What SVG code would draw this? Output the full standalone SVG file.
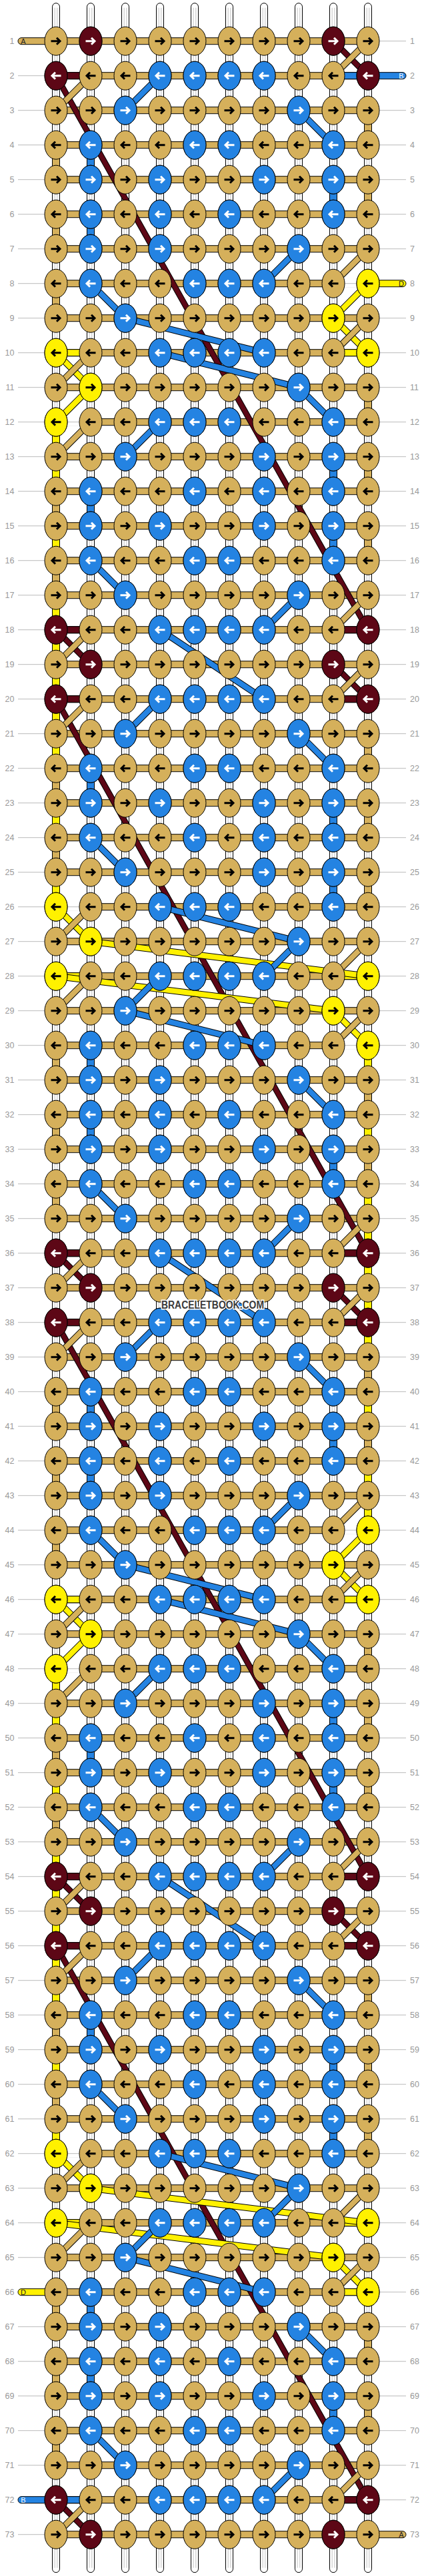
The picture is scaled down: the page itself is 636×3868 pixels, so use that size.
<svg xmlns="http://www.w3.org/2000/svg" width="636" height="3868" viewBox="0 0 636 3868">
<style>
.lb{font-family:"Liberation Sans",Arial,sans-serif;font-size:12.5px;fill:#999}
.le{text-anchor:end}
.cp{font-family:"Liberation Sans",Arial,sans-serif;font-size:11px;text-anchor:middle}
.a{fill:none;stroke-width:3}
.wm{font-family:"Liberation Sans",Arial,sans-serif;font-weight:bold;font-size:16px;fill:#3a3a3a;stroke:#fff;stroke-width:3;paint-order:stroke;text-anchor:middle}
</style>
<defs>
<path id="ar" class="a" d="M-7.5 0H5M1-5L6 0L1 5"/>
<path id="al" class="a" d="M7.5 0H-5M-1-5L-6 0L-1 5"/>
<ellipse id="e" rx="17" ry="21.5" stroke="#000"/>
<g id="tR"><use href="#e" fill="#D5B05B"/><use href="#ar" stroke="#000"/></g>
<g id="tL"><use href="#e" fill="#D5B05B"/><use href="#al" stroke="#000"/></g>
<g id="bR"><use href="#e" fill="#2483E2"/><use href="#ar" stroke="#fff"/></g>
<g id="bL"><use href="#e" fill="#2483E2"/><use href="#al" stroke="#fff"/></g>
<g id="mR"><use href="#e" fill="#5D0716"/><use href="#ar" stroke="#fff"/></g>
<g id="mL"><use href="#e" fill="#5D0716"/><use href="#al" stroke="#fff"/></g>
<g id="yR"><use href="#e" fill="#FFF100"/><use href="#ar" stroke="#000"/></g>
<g id="yL"><use href="#e" fill="#FFF100"/><use href="#al" stroke="#000"/></g>
<g id="rR"><use href="#tR" x="84"/><use href="#tR" x="136"/><use href="#tR" x="188"/><use href="#tR" x="240"/><use href="#tR" x="292"/><use href="#tR" x="344"/><use href="#tR" x="396"/><use href="#tR" x="448"/><use href="#tR" x="500"/><use href="#tR" x="552"/></g>
<g id="rL"><use href="#tL" x="84"/><use href="#tL" x="136"/><use href="#tL" x="188"/><use href="#tL" x="240"/><use href="#tL" x="292"/><use href="#tL" x="344"/><use href="#tL" x="396"/><use href="#tL" x="448"/><use href="#tL" x="500"/><use href="#tL" x="552"/></g>
<g id="k2"><use href="#rR"/><use href="#rL" y="52"/></g>
<g id="k4"><use href="#k2"/><use href="#k2" y="104"/></g>
<g id="k8"><use href="#k4"/><use href="#k4" y="208"/></g>
<g id="k16"><use href="#k8"/><use href="#k8" y="416"/></g>
<g id="k32"><use href="#k16"/><use href="#k16" y="832"/></g>
<g id="k64"><use href="#k32"/><use href="#k32" y="1664"/></g>
<g id="hF"><path d="M27 0H609" stroke="#bbb"/><rect x="84" y="-5" width="468" height="10" fill="#D5B05B" stroke="#000"/></g>
<g id="h2"><use href="#hF"/><use href="#hF" y="52"/></g>
<g id="h4"><use href="#h2"/><use href="#h2" y="104"/></g>
<g id="h8"><use href="#h4"/><use href="#h4" y="208"/></g>
<g id="h16"><use href="#h8"/><use href="#h8" y="416"/></g>
<g id="h32"><use href="#h16"/><use href="#h16" y="832"/></g>
<g id="h64"><use href="#h32"/><use href="#h32" y="1664"/></g>
<g id="col"><rect x="-5.5" y="-57" width="11" height="3858" rx="5.5" fill="#fff" stroke="#000"/><path d="M-1.8-50V3794M1.8-50V3794" stroke="#c4c4c4"/></g>
<g id="o1"><use href="#mR" x="136"/><use href="#mR" x="500"/></g>
<g id="b4"><use href="#bL" x="240"/><use href="#bL" x="292"/><use href="#bL" x="344"/><use href="#bL" x="396"/></g>
<g id="o2"><use href="#mL" x="84"/><use href="#b4"/><use href="#mL" x="552"/></g>
<g id="x3"><use href="#bR" x="188"/><use href="#bR" x="448"/></g>
<g id="x4"><use href="#bL" x="136"/><use href="#bL" x="292"/><use href="#bL" x="344"/><use href="#bL" x="500"/></g>
<g id="x5"><use href="#bR" x="136"/><use href="#bR" x="240"/><use href="#bR" x="396"/><use href="#bR" x="500"/></g>
<g id="x6"><use href="#bL" x="136"/><use href="#bL" x="240"/><use href="#bL" x="344"/><use href="#bL" x="500"/></g>
<g id="x7"><use href="#bR" x="136"/><use href="#bR" x="240"/><use href="#bR" x="448"/></g>
<g id="x8"><use href="#bL" x="136"/><use href="#bL" x="292"/><use href="#bL" x="344"/><use href="#bL" x="396"/><use href="#yL" x="552"/></g>
<g id="x9"><use href="#bR" x="188"/><use href="#yR" x="500"/></g>
<g id="x10"><use href="#yL" x="84"/><use href="#b4"/><use href="#yL" x="552"/></g>
<g id="x11"><use href="#yR" x="136"/><use href="#bR" x="448"/></g>
<g id="x12"><use href="#yL" x="84"/><use href="#bL" x="240"/><use href="#bL" x="292"/><use href="#bL" x="344"/><use href="#bL" x="500"/></g>
<g id="x13"><use href="#bR" x="188"/><use href="#bR" x="396"/><use href="#bR" x="500"/></g>
<g id="x14"><use href="#bL" x="136"/><use href="#bL" x="292"/><use href="#bL" x="396"/><use href="#bL" x="500"/></g>
<g id="P"><use href="#o1"/><use href="#o2" y="52"/><use href="#x3" y="104"/><use href="#x4" y="156"/><use href="#x5" y="208"/><use href="#x6" y="260"/><use href="#x7" y="312"/><use href="#x8" y="364"/><use href="#x9" y="416"/><use href="#x10" y="468"/><use href="#x11" y="520"/><use href="#x12" y="572"/><use href="#x13" y="624"/><use href="#x14" y="676"/><use href="#x5" y="728"/><use href="#x4" y="780"/><use href="#x3" y="832"/><use href="#o2" y="884"/><use href="#o1" y="936"/><use href="#o2" y="988"/><use href="#x3" y="1040"/><use href="#x4" y="1092"/><use href="#x5" y="1144"/><use href="#x14" y="1196"/><use href="#x13" y="1248"/><use href="#x12" y="1300"/><use href="#x11" y="1352"/><use href="#x10" y="1404"/><use href="#x9" y="1456"/><use href="#x8" y="1508"/><use href="#x7" y="1560"/><use href="#x6" y="1612"/><use href="#x5" y="1664"/><use href="#x4" y="1716"/><use href="#x3" y="1768"/><use href="#o2" y="1820"/></g>
<path id="dm" fill="none" d="M500 0L552 52M84 52L552 884M84 884L136 936M500 936L552 988M84 988L552 1820M84 1820L136 1872"/>
<path id="dy" fill="none" d="M552 364L500 416M500 416L552 468M84 468L136 520M136 520L84 572M84 1300L136 1352M136 1352L552 1404M84 1404L500 1456M500 1456L552 1508"/>
<path id="db" fill="none" d="M240 52L188 104M448 104L500 156M448 312L396 364M136 364L188 416M188 416L396 468M240 468L448 520M448 520L500 572M240 572L188 624M136 780L188 832M448 832L396 884M240 884L396 988M240 988L188 1040M448 1040L500 1092M136 1196L188 1248M240 1300L448 1352M448 1352L396 1404M240 1404L188 1456M188 1456L396 1508M448 1560L500 1612M136 1716L188 1768M448 1768L396 1820"/>
<path id="dt" fill="none" d="M552 0L500 52M136 52L84 104M552 312L500 364M552 416L500 468M136 468L84 520M136 572L84 624M552 832L500 884M136 884L84 936M552 936L500 988M136 988L84 1040M136 1300L84 1352M552 1352L500 1404M136 1404L84 1456M552 1456L500 1508M552 1768L500 1820M136 1820L84 1872"/>
<g id="D"><use href="#dm" stroke="#000" stroke-width="9"/><use href="#dm" stroke="#5D0716" stroke-width="7"/><use href="#dy" stroke="#000" stroke-width="10"/><use href="#dy" stroke="#FFF100" stroke-width="8"/><use href="#db" stroke="#000" stroke-width="10"/><use href="#db" stroke="#2483E2" stroke-width="8"/><use href="#dt" stroke="#000" stroke-width="10"/><use href="#dt" stroke="#D5B05B" stroke-width="8"/></g>
</defs>
<rect width="636" height="3868" fill="#fff"/>
<g transform="translate(0 61.7)">
<g id="columns"><use href="#col" x="84"/><use href="#col" x="136"/><use href="#col" x="188"/><use href="#col" x="240"/><use href="#col" x="292"/><use href="#col" x="344"/><use href="#col" x="396"/><use href="#col" x="448"/><use href="#col" x="500"/><use href="#col" x="552"/></g>
<g id="vertical-segments" stroke="#000">
<path fill="#D5B05B" d="M78.5 156h11v52h-11zM78.5 260h11v52h-11zM78.5 364h11v52h-11zM78.5 676h11v52h-11zM78.5 780h11v52h-11zM78.5 1092h11v52h-11zM78.5 1196h11v52h-11zM78.5 1508h11v52h-11zM78.5 1612h11v52h-11zM78.5 1716h11v52h-11zM78.5 2028h11v52h-11zM78.5 2132h11v52h-11zM78.5 2236h11v52h-11zM78.5 2548h11v52h-11zM78.5 2652h11v52h-11zM78.5 2964h11v52h-11zM78.5 3068h11v52h-11zM78.5 3380h11v52h-11zM78.5 3484h11v52h-11zM78.5 3588h11v52h-11zM546.5 104h11v52h-11zM546.5 208h11v52h-11zM546.5 520h11v52h-11zM546.5 624h11v52h-11zM546.5 728h11v52h-11zM546.5 1040h11v52h-11zM546.5 1144h11v52h-11zM546.5 1248h11v52h-11zM546.5 1560h11v52h-11zM546.5 1664h11v52h-11zM546.5 1976h11v52h-11zM546.5 2080h11v52h-11zM546.5 2392h11v52h-11zM546.5 2496h11v52h-11zM546.5 2600h11v52h-11zM546.5 2912h11v52h-11zM546.5 3016h11v52h-11zM546.5 3120h11v52h-11zM546.5 3432h11v52h-11zM546.5 3536h11v52h-11z"/>
<path fill="#FFF100" d="M78.5 572h11v52h-11zM78.5 624h11v52h-11zM78.5 728h11v52h-11zM78.5 832h11v52h-11zM78.5 884h11v52h-11zM78.5 936h11v52h-11zM78.5 988h11v52h-11zM78.5 1040h11v52h-11zM78.5 1144h11v52h-11zM78.5 1248h11v52h-11zM78.5 2444h11v52h-11zM78.5 2496h11v52h-11zM78.5 2600h11v52h-11zM78.5 2704h11v52h-11zM78.5 2756h11v52h-11zM78.5 2808h11v52h-11zM78.5 2860h11v52h-11zM78.5 2912h11v52h-11zM78.5 3016h11v52h-11zM78.5 3120h11v52h-11zM546.5 1508h11v52h-11zM546.5 1612h11v52h-11zM546.5 1716h11v52h-11zM546.5 1768h11v52h-11zM546.5 1820h11v52h-11zM546.5 1872h11v52h-11zM546.5 1924h11v52h-11zM546.5 2028h11v52h-11zM546.5 2132h11v52h-11zM546.5 2184h11v52h-11z"/>
<path fill="#2483E2" d="M130.5 156h11v52h-11zM130.5 260h11v52h-11zM130.5 676h11v52h-11zM130.5 1092h11v52h-11zM130.5 1508h11v52h-11zM130.5 1612h11v52h-11zM130.5 2028h11v52h-11zM130.5 2132h11v52h-11zM130.5 2548h11v52h-11zM130.5 2964h11v52h-11zM130.5 3380h11v52h-11zM130.5 3484h11v52h-11zM494.5 208h11v52h-11zM494.5 624h11v52h-11zM494.5 728h11v52h-11zM494.5 1144h11v52h-11zM494.5 1248h11v52h-11zM494.5 1664h11v52h-11zM494.5 2080h11v52h-11zM494.5 2496h11v52h-11zM494.5 2600h11v52h-11zM494.5 3016h11v52h-11zM494.5 3120h11v52h-11zM494.5 3536h11v52h-11z"/>
</g>
<g id="horizontal-strands">
<use href="#h64"/><use href="#h8" y="3328"/><use href="#hF" y="3744"/>
<path fill="#5D0716" stroke="#000" d="M84 47h52v10h-52zM84 879h52v10h-52zM500 879h52v10h-52zM84 983h52v10h-52zM500 983h52v10h-52zM84 1815h52v10h-52zM500 1815h52v10h-52zM84 1919h52v10h-52zM500 1919h52v10h-52zM84 2751h52v10h-52zM500 2751h52v10h-52zM84 2855h52v10h-52zM500 2855h52v10h-52zM500 3687h52v10h-52z"/>
<path fill="#2483E2" stroke="#000" d="M500 47h52v10h-52zM84 3687h52v10h-52z"/>
<path fill="#FFF100" stroke="#000" d="M84 463h52v10h-52zM500 463h52v10h-52zM84 1399h52v10h-52zM500 1399h52v10h-52zM84 2335h52v10h-52zM500 2335h52v10h-52zM84 3271h52v10h-52zM500 3271h52v10h-52zM500 3375h52v10h-52z"/>
<path fill="#fff" d="M516 358h20v12h-20zM100 566h20v12h-20zM100 1294h20v12h-20zM516 1502h20v12h-20zM516 2230h20v12h-20zM100 2438h20v12h-20zM100 3166h20v12h-20z"/>
<path stroke="#bbb" d="M516 364H536M100 572H120M100 1300H120M516 1508H536M516 2236H536M100 2444H120M100 3172H120"/>
</g>
<g id="end-A-start"><rect x="27" y="-5" width="60" height="10" rx="5" fill="#D5B05B" stroke="#000"/><text class="cp" x="35" y="4" fill="#222">A</text></g>
<g id="end-B-start"><rect x="549" y="47" width="60" height="10" rx="5" fill="#2483E2" stroke="#000"/><text class="cp" x="602" y="56" fill="#fff">B</text></g>
<g id="end-D-start"><rect x="549" y="359" width="60" height="10" rx="5" fill="#FFF100" stroke="#000"/><text class="cp" x="602" y="368" fill="#222">D</text></g>
<g id="end-D-end"><rect x="27" y="3375" width="60" height="10" rx="5" fill="#FFF100" stroke="#000"/><text class="cp" x="35" y="3384" fill="#222">D</text></g>
<g id="end-B-end"><rect x="27" y="3687" width="60" height="10" rx="5" fill="#2483E2" stroke="#000"/><text class="cp" x="35" y="3696" fill="#fff">B</text></g>
<g id="end-A-end"><rect x="549" y="3739" width="60" height="10" rx="5" fill="#D5B05B" stroke="#000"/><text class="cp" x="602" y="3748" fill="#222">A</text></g>
<g id="connectors">
<use href="#D"/><use href="#D" y="1872"/>
<path d="M240 1820L396 1924" stroke="#000" stroke-width="10"/><path d="M240 1820L396 1924" stroke="#2483E2" stroke-width="8"/>
</g>
<g id="knots">
<use href="#k64"/><use href="#k8" y="3328"/><use href="#rR" y="3744"/>
<use href="#P"/><use href="#P" y="1872"/><use href="#o1" y="3744"/>
</g>
<g id="labels-left" class="lb le" transform="translate(21.5 4.5)"><text>1</text><text y="52">2</text><text y="104">3</text><text y="156">4</text><text y="208">5</text><text y="260">6</text><text y="312">7</text><text y="364">8</text><text y="416">9</text><text y="468">10</text><text y="520">11</text><text y="572">12</text><text y="624">13</text><text y="676">14</text><text y="728">15</text><text y="780">16</text><text y="832">17</text><text y="884">18</text><text y="936">19</text><text y="988">20</text><text y="1040">21</text><text y="1092">22</text><text y="1144">23</text><text y="1196">24</text><text y="1248">25</text><text y="1300">26</text><text y="1352">27</text><text y="1404">28</text><text y="1456">29</text><text y="1508">30</text><text y="1560">31</text><text y="1612">32</text><text y="1664">33</text><text y="1716">34</text><text y="1768">35</text><text y="1820">36</text><text y="1872">37</text><text y="1924">38</text><text y="1976">39</text><text y="2028">40</text><text y="2080">41</text><text y="2132">42</text><text y="2184">43</text><text y="2236">44</text><text y="2288">45</text><text y="2340">46</text><text y="2392">47</text><text y="2444">48</text><text y="2496">49</text><text y="2548">50</text><text y="2600">51</text><text y="2652">52</text><text y="2704">53</text><text y="2756">54</text><text y="2808">55</text><text y="2860">56</text><text y="2912">57</text><text y="2964">58</text><text y="3016">59</text><text y="3068">60</text><text y="3120">61</text><text y="3172">62</text><text y="3224">63</text><text y="3276">64</text><text y="3328">65</text><text y="3380">66</text><text y="3432">67</text><text y="3484">68</text><text y="3536">69</text><text y="3588">70</text><text y="3640">71</text><text y="3692">72</text><text y="3744">73</text></g>
<g id="labels-right" class="lb" transform="translate(615 4.5)"><text>1</text><text y="52">2</text><text y="104">3</text><text y="156">4</text><text y="208">5</text><text y="260">6</text><text y="312">7</text><text y="364">8</text><text y="416">9</text><text y="468">10</text><text y="520">11</text><text y="572">12</text><text y="624">13</text><text y="676">14</text><text y="728">15</text><text y="780">16</text><text y="832">17</text><text y="884">18</text><text y="936">19</text><text y="988">20</text><text y="1040">21</text><text y="1092">22</text><text y="1144">23</text><text y="1196">24</text><text y="1248">25</text><text y="1300">26</text><text y="1352">27</text><text y="1404">28</text><text y="1456">29</text><text y="1508">30</text><text y="1560">31</text><text y="1612">32</text><text y="1664">33</text><text y="1716">34</text><text y="1768">35</text><text y="1820">36</text><text y="1872">37</text><text y="1924">38</text><text y="1976">39</text><text y="2028">40</text><text y="2080">41</text><text y="2132">42</text><text y="2184">43</text><text y="2236">44</text><text y="2288">45</text><text y="2340">46</text><text y="2392">47</text><text y="2444">48</text><text y="2496">49</text><text y="2548">50</text><text y="2600">51</text><text y="2652">52</text><text y="2704">53</text><text y="2756">54</text><text y="2808">55</text><text y="2860">56</text><text y="2912">57</text><text y="2964">58</text><text y="3016">59</text><text y="3068">60</text><text y="3120">61</text><text y="3172">62</text><text y="3224">63</text><text y="3276">64</text><text y="3328">65</text><text y="3380">66</text><text y="3432">67</text><text y="3484">68</text><text y="3536">69</text><text y="3588">70</text><text y="3640">71</text><text y="3692">72</text><text y="3744">73</text></g>
<text class="wm" x="319" y="1903" textLength="154" lengthAdjust="spacingAndGlyphs">BRACELETBOOK.COM</text>
</g>
</svg>
